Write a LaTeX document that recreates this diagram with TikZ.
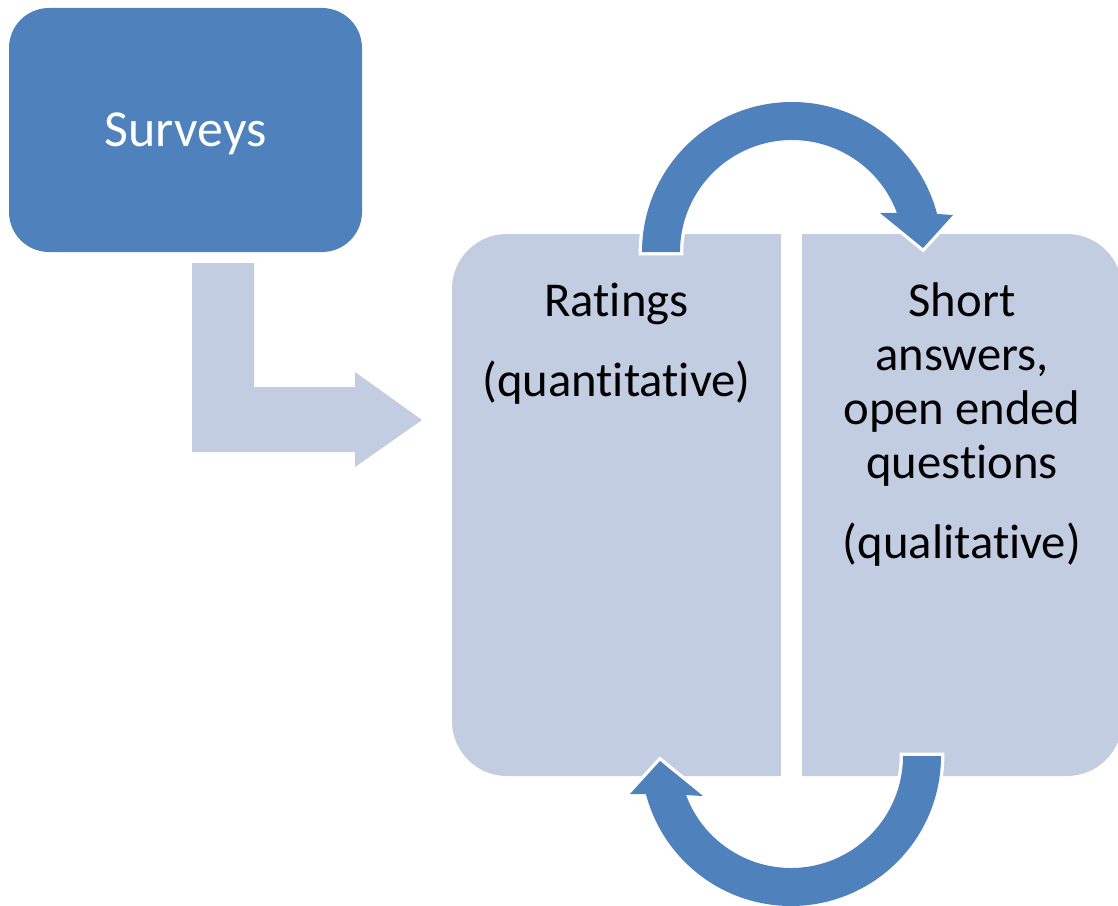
\documentclass[tikz,border=0pt]{standalone}
\usepackage{fontspec}
\setmainfont[Ligatures=NoCommon]{Carlito}
\usetikzlibrary{positioning,calc}
\definecolor{surveyblue}{RGB}{79,129,189}
\definecolor{paleblue}{RGB}{194,205,226}

\begin{document}
\begin{tikzpicture}[
    x=0.75pt, y=-0.75pt,
    topbox/.style={
        fill=surveyblue,
        rounded corners=30pt,
        minimum width=264.75pt,
        minimum height=183pt,
        text depth=0pt,
        text=white,
        font=\fontsize{39}{47}\selectfont
    },
    paneltext/.style={
        anchor=base,
        align=center,
        font=\fontsize{36.5}{40.5}\selectfont
    },
    looparrow/.style={
        fill=surveyblue,
        preaction={draw=white, line width=5pt}
    }
]
\useasboundingbox (0,0) rectangle (1118,906);

% Panels
\fill[paleblue] (781,234) -- (507,234) arc[start angle=270, end angle=180, radius=55]
    -- (452,721) arc[start angle=180, end angle=90, radius=55] -- (781,776) -- cycle;
\fill[paleblue] (802,234) -- (1067,234) arc[start angle=270, end angle=360, radius=55]
    -- (1122,721) arc[start angle=0, end angle=90, radius=55] -- (802,776) -- cycle;

% Nodes
\node (surveys) [topbox] at (185.5,130) {Surveys};
\node (ratings) [paneltext] at (616.5,396) {Ratings\\[19.5pt](quantitative)};
\node (short)   [paneltext] at (962,558) {Short\\answers,\\open ended\\questions\\[19.5pt](qualitative)};

% Arrows
\fill[paleblue] (192,263) -- (254,263) -- (254,387) -- (355,387) -- (355,372)
    -- (422,420) -- (355,467) -- (355,452) -- (192,452) -- cycle;

\coordinate (ctop) at (792,252);
\path[looparrow] ($(ctop)+(180:112)$) -- ($(ctop)+(180:150)$)
    arc[start angle=180, end angle=345.3, radius=150]
    -- ($(ctop)+(161,-37)$) -- ($(ctop)+(131,-4)$) -- ($(ctop)+(88,-39)$)
    -- ($(ctop)+(339.6:112)$) arc[start angle=339.6, end angle=180, radius=112] -- cycle;

\coordinate (cbot) at (791,756);
\path[looparrow] ($(cbot)+(0:112)$) -- ($(cbot)+(0:150)$)
    arc[start angle=0, end angle=165.3, radius=150]
    -- ($(cbot)+(-161,38)$) -- ($(cbot)+(-131,5)$) -- ($(cbot)+(-88,40)$)
    -- ($(cbot)+(159.6:112)$) arc[start angle=159.6, end angle=0, radius=112] -- cycle;

\end{tikzpicture}
\end{document}
